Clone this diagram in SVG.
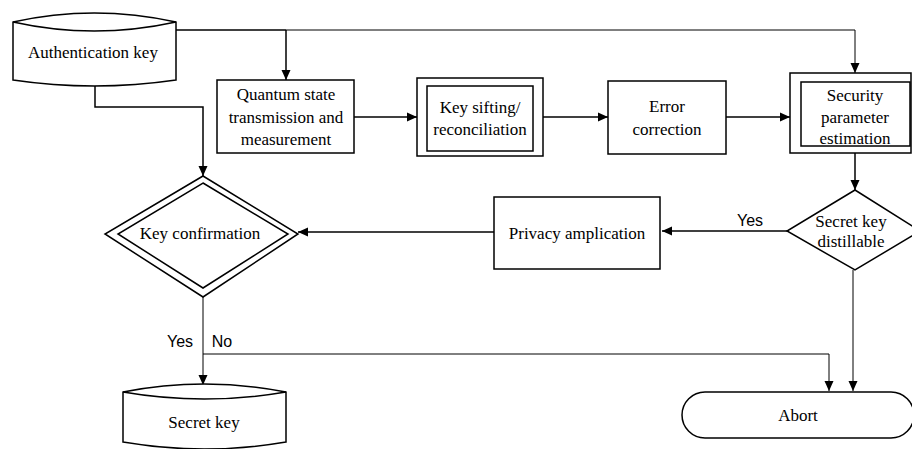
<svg xmlns="http://www.w3.org/2000/svg" width="912" height="449" viewBox="0 0 912 449">
<defs>
<style>
.s{fill:#fff;stroke:#000;stroke-width:1.5}
.c{fill:none;stroke:#000;stroke-width:1.5}
.t{fill:none;stroke:#000;stroke-width:1}
.l{font-family:"Liberation Serif","Times New Roman",serif;font-size:17px;fill:#000;text-anchor:middle}
.y{font-family:"Liberation Sans",Arial,sans-serif;font-size:16px;fill:#000;text-anchor:middle}
</style>
<marker id="a" viewBox="0 0 10 10" refX="10" refY="5" markerWidth="10" markerHeight="10" markerUnits="userSpaceOnUse" orient="auto">
<path d="M0,0.5 L10,5 L0,9.5 Z" fill="#000"/>
</marker>
</defs>
<rect width="912" height="449" fill="#fff"/>
<g id="connectors">
<path class="c" d="M176,30 H286"/>
<path class="t" d="M286,30 H855 V73" marker-end="url(#a)"/>
<path class="c" d="M286,30 V80" marker-end="url(#a)"/>
<path class="c" d="M95,85 V107 H203 V176" marker-end="url(#a)"/>
<path class="c" d="M354,117 H417" marker-end="url(#a)"/>
<path class="c" d="M543,117 H608" marker-end="url(#a)"/>
<path class="c" d="M726,117 H790" marker-end="url(#a)"/>
<path class="c" d="M855,153 V190" marker-end="url(#a)"/>
<path class="c" d="M787,231 H662" marker-end="url(#a)"/>
<path class="c" d="M494,232 H298" marker-end="url(#a)"/>
<path class="t" d="M203,297 V385" marker-end="url(#a)"/>
<path class="t" d="M203,354 H829 V391" marker-end="url(#a)"/>
<path class="t" d="M853,270 V391" marker-end="url(#a)"/>
<text class="y" x="750" y="226">Yes</text>
<text class="y" x="180" y="347">Yes</text>
<text class="y" x="222" y="347">No</text>
</g>
<g id="auth-key">
<path class="s" d="M13,22 Q94,4 176,22 V80 Q94,92 13,80 Z"/>
<path class="c" d="M13,22 Q94,40 176,22"/>
<text class="l" x="93" y="58">Authentication key</text>
</g>
<g id="quantum">
<rect class="s" x="217" y="80" width="137" height="73"/>
<text class="l" x="286" y="100">Quantum state</text>
<text class="l" x="286" y="123">transmission and</text>
<text class="l" x="286" y="145">measurement</text>
</g>
<g id="sifting">
<rect class="s" x="417" y="78" width="126" height="78"/>
<rect class="s" x="427" y="86" width="106" height="65" stroke-width="2"/>
<text class="l" x="480" y="113">Key sifting/</text>
<text class="l" x="480" y="135">reconciliation</text>
</g>
<g id="error">
<rect class="s" x="608" y="81" width="118" height="73"/>
<text class="l" x="667" y="112">Error</text>
<text class="l" x="667" y="135">correction</text>
</g>
<g id="security">
<rect class="s" x="790" y="73" width="121" height="80" stroke-width="2"/>
<rect class="s" x="801" y="82" width="109" height="64"/>
<text class="l" x="855" y="101">Security</text>
<text class="l" x="855" y="123">parameter</text>
<text class="l" x="855" y="144">estimation</text>
</g>
<g id="distillable">
<path class="s" d="M855,190 L920,231 L855,270 L787,231 Z"/>
<text class="l" x="851" y="227">Secret key</text>
<text class="l" x="851" y="247">distillable</text>
</g>
<g id="privacy">
<rect class="s" x="494" y="197" width="166" height="72"/>
<text class="l" x="577" y="239">Privacy amplication</text>
</g>
<g id="key-confirmation">
<path class="s" d="M203,176 L298,234 L203,297 L105,234 Z"/>
<path class="s" d="M203,183 L288,234 L203,288 L118,234 Z"/>
<text class="l" x="200" y="239">Key confirmation</text>
</g>
<g id="secret-key">
<path class="s" d="M123,392 Q204,376 286,392 V442 Q204,456 123,442 Z"/>
<path class="c" d="M123,392 Q204,406 286,392"/>
<text class="l" x="204" y="428">Secret key</text>
</g>
<g id="abort">
<rect class="s" x="682" y="392" width="232" height="46" rx="23" ry="23"/>
<text class="l" x="798" y="421">Abort</text>
</g>
</svg>
